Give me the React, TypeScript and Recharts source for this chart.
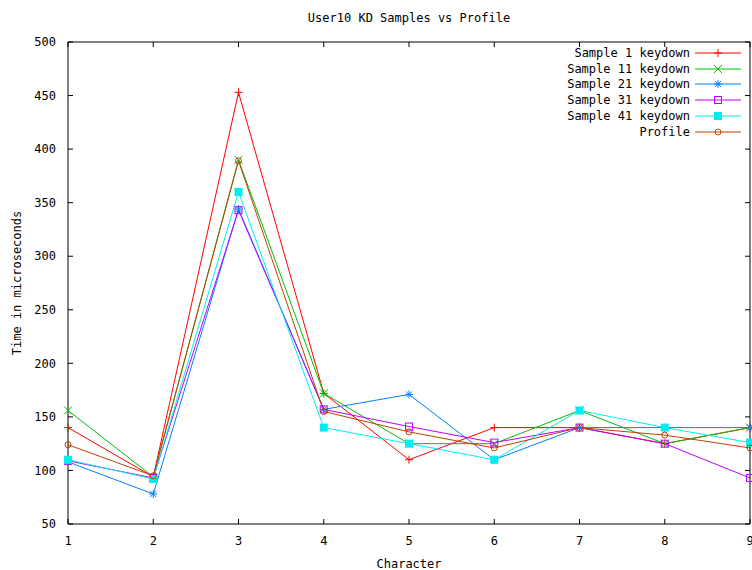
import React from 'react';
import { LineChart, Line, XAxis, YAxis, Legend, Label } from 'recharts';

// keydown times per character position
const characters = [1, 2, 3, 4, 5, 6, 7, 8, 9];
const sample1 = [140, 94, 453, 172, 110, 140, 140, 125, 140];
const sample11 = [156, 94, 390, 172, 125, 125, 156, 125, 140];
const sample21 = [108, 78, 344, 157, 171, 110, 140, 140, 140];
const sample31 = [109, 93, 343, 157, 141, 126, 140, 125, 93];
const sample41 = [110, 92, 360, 140, 125, 110, 156, 140, 126];
const profile = [124, 95, 389, 155, 136, 121, 140, 133, 121];

const yTicks = [50, 100, 150, 200, 250, 300, 350, 400, 450, 500];

type Shape = 'plus' | 'cross' | 'star' | 'box' | 'boxFilled' | 'circle';

const series: { key: string; name: string; color: string; shape: Shape; values: number[] }[] = [
  { key: 's1', name: 'Sample 1 keydown', color: '#ff0000', shape: 'plus', values: sample1 },
  { key: 's11', name: 'Sample 11 keydown', color: '#00c000', shape: 'cross', values: sample11 },
  { key: 's21', name: 'Sample 21 keydown', color: '#0080ff', shape: 'star', values: sample21 },
  { key: 's31', name: 'Sample 31 keydown', color: '#c000ff', shape: 'box', values: sample31 },
  { key: 's41', name: 'Sample 41 keydown', color: '#00eeee', shape: 'boxFilled', values: sample41 },
  { key: 'profile', name: 'Profile', color: '#c04000', shape: 'circle', values: profile },
];

const data = characters.map((c, i) => {
  const row: Record<string, number> = { character: c };
  series.forEach((s) => {
    row[s.key] = s.values[i];
  });
  return row;
});

const FONT = '"DejaVu Sans Mono", monospace';
const tickStyle = { fontFamily: FONT, fontSize: 12, fill: '#000' };

function marker(shape: Shape, cx: number, cy: number, color: string, key?: string) {
  const r = 4;
  switch (shape) {
    case 'plus':
      return <path key={key} d={`M${cx - r},${cy}H${cx + r}M${cx},${cy - r}V${cy + r}`} stroke={color} fill="none" />;
    case 'cross':
      return (
        <path
          key={key}
          d={`M${cx - r},${cy - r}L${cx + r},${cy + r}M${cx - r},${cy + r}L${cx + r},${cy - r}`}
          stroke={color}
          fill="none"
        />
      );
    case 'star':
      return (
        <path
          key={key}
          d={`M${cx - r},${cy}H${cx + r}M${cx},${cy - r}V${cy + r}M${cx - 3},${cy - 3}L${cx + 3},${cy + 3}M${cx - 3},${cy + 3}L${cx + 3},${cy - 3}`}
          stroke={color}
          fill="none"
        />
      );
    case 'box':
      return <rect key={key} x={cx - 3.5} y={cy - 3.5} width={7} height={7} stroke={color} fill="none" />;
    case 'boxFilled':
      return <rect key={key} x={cx - 4} y={cy - 4} width={8} height={8} fill={color} />;
    default:
      return <circle key={key} cx={cx} cy={cy} r={3} stroke={color} fill="none" />;
  }
}

const renderLegend = () => (
  <div style={{ fontFamily: FONT, fontSize: 12, color: '#000' }}>
    {series.map((s) => (
      <div key={s.key} style={{ display: 'flex', alignItems: 'center', justifyContent: 'flex-end', height: 15.8 }}>
        <span style={{ whiteSpace: 'pre' }}>{s.name}</span>
        <svg width={46} height={12} style={{ marginLeft: 5 }}>
          <line x1={0} y1={6} x2={46} y2={6} stroke={s.color} />
          {marker(s.shape, 23, 6, s.color)}
        </svg>
      </div>
    ))}
  </div>
);

export default function App() {
  return (
    <div style={{ position: 'absolute', left: 0, top: 0, background: '#fff' }}>
      <LineChart width={752} height={570} data={data} margin={{ top: 41, right: 1, left: 8, bottom: 0 }}>
        <XAxis
          dataKey="character"
          type="number"
          domain={[1, 9]}
          ticks={characters}
          interval={0}
          height={46}
          tickSize={-5}
          tickMargin={17}
          tick={tickStyle}
          stroke="#000"
          tickLine={{ stroke: '#000' }}
        >
          <Label value="Character" position="insideBottom" offset={2} style={{ fontFamily: FONT, fontSize: 12, fill: '#000' }} />
        </XAxis>
        {/* mirrored frame: top and right axes carry the inward ticks */}
        <XAxis
          xAxisId="top"
          orientation="top"
          dataKey="character"
          type="number"
          domain={[1, 9]}
          ticks={characters}
          interval={0}
          height={1}
          tickSize={-5}
          tickFormatter={() => ''}
          stroke="#000"
          tickLine={{ stroke: '#000' }}
        >
          <Label value="User10 KD Samples vs Profile" position="top" offset={19} style={{ fontFamily: FONT, fontSize: 12, fill: '#000' }} />
        </XAxis>
        <YAxis
          type="number"
          domain={[50, 500]}
          ticks={yTicks}
          interval={0}
          width={60}
          tickSize={-5}
          tickMargin={17}
          tick={tickStyle}
          stroke="#000"
          tickLine={{ stroke: '#000' }}
        >
          <Label
            value="Time in microseconds"
            angle={-90}
            position="insideLeft"
            offset={9}
            style={{ fontFamily: FONT, fontSize: 12, fill: '#000', textAnchor: 'middle' }}
          />
        </YAxis>
        <YAxis
          yAxisId="right"
          orientation="right"
          type="number"
          domain={[50, 500]}
          ticks={yTicks}
          interval={0}
          width={1}
          tickSize={-5}
          tickFormatter={() => ''}
          stroke="#000"
          tickLine={{ stroke: '#000' }}
        />
        <Legend
          content={renderLegend}
          layout="horizontal"
          verticalAlign="middle"
          align="center"
          wrapperStyle={{ top: 45, right: 11, left: 'auto', width: 'auto' }}
        />
        <Line
          xAxisId="top"
          yAxisId="right"
          dataKey="profile"
          stroke="none"
          dot={false}
          activeDot={false}
          legendType="none"
          isAnimationActive={false}
        />
        {series.map((s) => (
          <Line
            key={s.key}
            dataKey={s.key}
            name={s.name}
            stroke={s.color}
            strokeWidth={1}
            isAnimationActive={false}
            activeDot={false}
            dot={(p: any) => marker(s.shape, p.cx, p.cy, s.color, `${s.key}-${p.index}`)}
          />
        ))}
      </LineChart>
    </div>
  );
}
